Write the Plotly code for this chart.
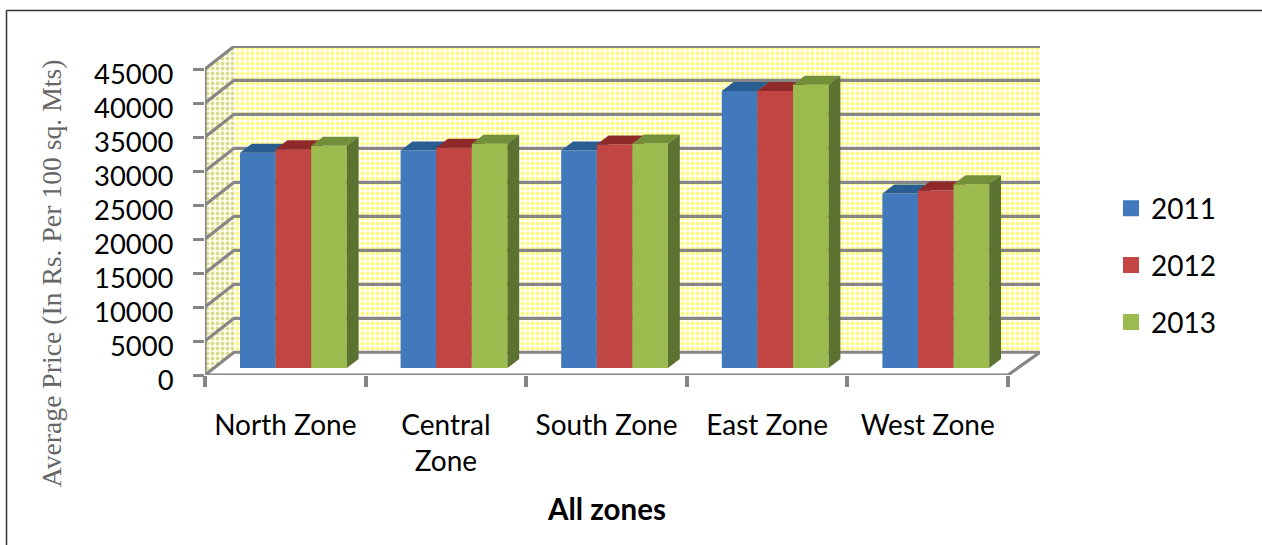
import plotly.graph_objects as go

# Chart data
zones = ["North Zone", "Central<br>Zone", "South Zone", "East Zone", "West Zone"]
years = ["2011", "2012", "2013"]
price_2011 = [31660, 32000, 32000, 40750, 25680]
price_2012 = [32200, 32400, 32900, 40750, 26120]
price_2013 = [32690, 33000, 33040, 41670, 27050]
value_ticks = list(range(0, 50000, 5000))

# Colours of each series: front, top and side faces
front_colors = ["#4279BD", "#C04543", "#9BBB4F"]
top_colors = ["#2A5D91", "#8F2A28", "#728F39"]
side_colors = ["#2A5D91", "#8F2A28", "#5C7230"]
GRID = "#868686"
FONT = "Lato, sans-serif"

# Plot geometry: one x unit is a category, y is in price units
W, H = 1262, 545
LEFT, RIGHT, TOP, BOTTOM = 205.0, 1040.0, 46.0, 374.6
UNIT_X = 160.6
UNIT_Y = 6.791 / 1000
x_max = (RIGHT - LEFT) / UNIT_X
y_max = (BOTTOM - TOP) / UNIT_Y

# 3D projection offsets of the room and of the bars
WALL_X0 = 29 / UNIT_X
WALL_X1 = 5 + 32 / UNIT_X
WALL_Y = 22.7 / UNIT_Y
BAR_START = 35 / UNIT_X
BAR_W = 35.6 / UNIT_X
BAR_DX = 11.8 / UNIT_X
BAR_DY = 9 / UNIT_Y
BAR_BASE = 6.9 / UNIT_Y

fig = go.Figure()


def line(xs, ys, color=GRID, width=3.2):
    fig.add_trace(go.Scatter(x=xs, y=ys, mode="lines", showlegend=False, hoverinfo="skip",
                             line=dict(color=color, width=width, simplify=False)))


# Room walls with the dotted fill
fig.add_trace(go.Scatter(
    x=[0, WALL_X0, WALL_X0, 0, 0], y=[0, WALL_Y, 45000 + WALL_Y, 45000, 0],
    mode="none", fill="toself", showlegend=False, hoverinfo="skip", fillcolor="white",
    fillpattern=dict(shape=".", fgcolor="#B8B830", bgcolor="#FFFFF0", size=5, solidity=0.45)))
fig.add_trace(go.Scatter(
    x=[WALL_X0, WALL_X1, WALL_X1, WALL_X0, WALL_X0],
    y=[WALL_Y, WALL_Y, 45000 + WALL_Y, 45000 + WALL_Y, WALL_Y],
    mode="none", fill="toself", showlegend=False, hoverinfo="skip", fillcolor="white",
    fillpattern=dict(shape=".", fgcolor="#FFF200", bgcolor="white", size=5, solidity=0.5)))

# Gridlines run along the side wall and across the back wall
for v in value_ticks:
    line([0, WALL_X0, WALL_X1], [v, v + WALL_Y, v + WALL_Y])

# Front axis lines and the right edge of the floor
line([0, 0], [0, 45000])
line([0, 5], [0, 0])
line([5, WALL_X1], [0, WALL_Y])

# Each series sits on its own overlaid axes so nearer faces paint over farther ones
all_prices = [price_2011, price_2012, price_2013]
for s, (year, prices) in enumerate(zip(years, all_prices)):
    ax = str(s + 2)
    xa, ya = "x" + ax, "y" + ax
    lefts = [i + BAR_START + s * BAR_W for i in range(len(prices))]
    fig.add_trace(go.Bar(
        x=[l + BAR_W / 2 for l in lefts], y=prices, base=BAR_BASE, width=BAR_W,
        xaxis=xa, yaxis=ya, name=year, showlegend=False,
        marker=dict(color=front_colors[s], line=dict(width=0))))
    for l, p in zip(lefts, prices):
        top = p + BAR_BASE
        fig.add_trace(go.Scatter(
            x=[l, l + BAR_W, l + BAR_W + BAR_DX, l + BAR_DX, l],
            y=[top, top, top + BAR_DY, top + BAR_DY, top],
            xaxis=xa, yaxis=ya, mode="none", fill="toself", fillcolor=top_colors[s],
            showlegend=False, hoverinfo="skip"))
        r = l + BAR_W
        fig.add_trace(go.Scatter(
            x=[r, r + BAR_DX, r + BAR_DX, r, r],
            y=[BAR_BASE, BAR_BASE + BAR_DY, top + BAR_DY, top, BAR_BASE],
            xaxis=xa, yaxis=ya, mode="none", fill="toself", fillcolor=side_colors[s],
            showlegend=False, hoverinfo="skip"))

# Legend entries
for s, year in enumerate(years):
    fig.add_trace(go.Scatter(
        x=[None], y=[None], mode="markers", name=year, legendgroup=year,
        marker=dict(symbol="square", size=16, color=front_colors[s])))

overlay_x = dict(range=[0, x_max], visible=False, overlaying="x", anchor="y")
overlay_y = dict(range=[0, y_max], visible=False, overlaying="y", anchor="x")


def paper_x(px):
    return (px - LEFT) / (RIGHT - LEFT)


def paper_y(px):
    return (BOTTOM - px) / (BOTTOM - TOP)


fig.update_layout(
    width=W, height=H, autosize=False,
    margin=dict(l=LEFT, r=W - RIGHT, t=TOP, b=H - BOTTOM, autoexpand=False),
    paper_bgcolor="white", plot_bgcolor="white",
    font=dict(family=FONT, size=28, color="black"),
    barmode="overlay",
    xaxis=dict(
        range=[0, x_max], showgrid=False, zeroline=False, showline=False,
        tickmode="array", tickvals=[i + 0.5 for i in range(5)], ticktext=zones,
        ticks="", ticklabelstandoff=31,
        minor=dict(tickmode="array", tickvals=list(range(6)), ticks="outside",
                   ticklen=11, tickwidth=4, tickcolor=GRID),
    ),
    yaxis=dict(
        range=[0, y_max], showgrid=False, zeroline=False, showline=False,
        tickmode="array", tickvals=value_ticks, ticktext=[str(v) for v in value_ticks],
        ticks="outside", ticklen=11, tickwidth=3.4, tickcolor=GRID, ticklabelstandoff=14,
        ticklabelshift=5, tickfont=dict(family=FONT, size=27.4, color="black"),
    ),
    xaxis2=overlay_x, yaxis2=overlay_y,
    xaxis3=overlay_x, yaxis3=overlay_y,
    xaxis4=overlay_x, yaxis4=overlay_y,
    legend=dict(x=paper_x(1111), y=paper_y(183.3),
                xanchor="left", yanchor="top", bgcolor="rgba(0,0,0,0)", tracegroupgap=17.5,
                font=dict(family=FONT, size=28), itemsizing="trace"),
    shapes=[
        # Outer frame: top and left edges only
        dict(type="line", xref="paper", yref="paper",
             x0=paper_x(6.5), x1=paper_x(W), y0=paper_y(10.5), y1=paper_y(10.5),
             line=dict(color="#333333", width=1.5)),
        dict(type="line", xref="paper", yref="paper",
             x0=paper_x(6.5), x1=paper_x(6.5), y0=paper_y(H), y1=paper_y(10.5),
             line=dict(color="#333333", width=1.5)),
    ],
    annotations=[
        dict(text="<b>All zones</b>", xref="paper", yref="paper", showarrow=False,
             x=paper_x(606), y=paper_y(508),
             font=dict(family=FONT, size=29.5, color="black"),
             xanchor="center", yanchor="middle"),
        dict(text="Average Price (In Rs. Per 100 sq. Mts)", xref="paper", yref="paper",
             showarrow=False, textangle=-90,
             x=paper_x(51), y=paper_y(273),
             font=dict(family="Liberation Serif, serif", size=27.7, color="#666666"),
             xanchor="center", yanchor="middle"),
    ],
)

fig.write_html("out.html")
